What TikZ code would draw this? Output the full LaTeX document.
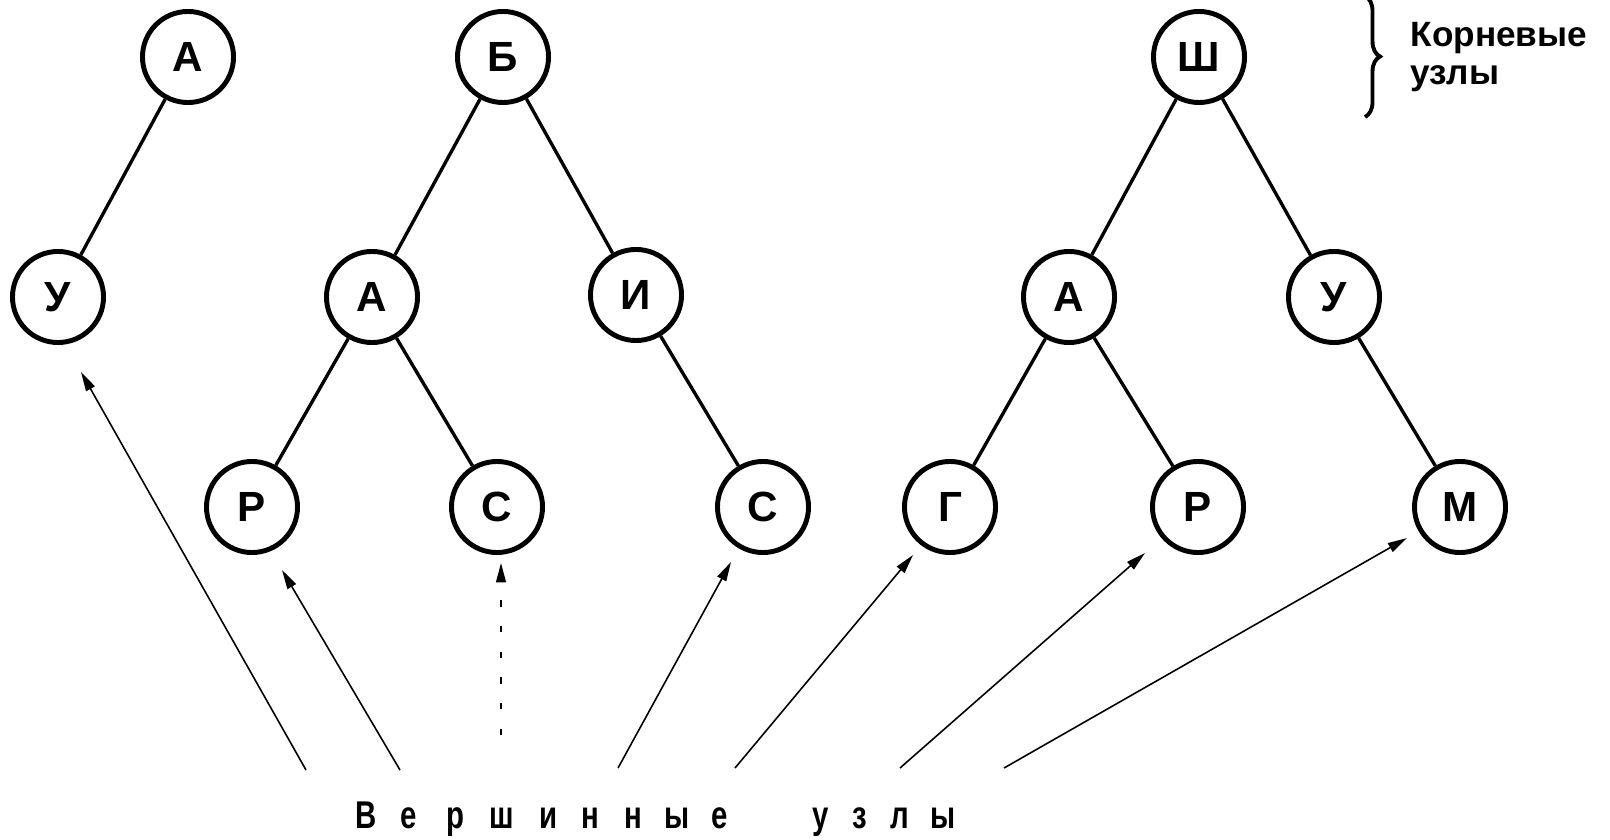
\documentclass[tikz,border=0pt]{standalone}
\usepackage{fontspec}
\setmainfont{Liberation Sans}
\newfontfamily\narrowsans[FakeStretch=0.76]{Liberation Sans}
\usepackage{tikz}
\usetikzlibrary{arrows.meta,calc,decorations.pathreplacing}
\tikzset{
  base/.style={font=\bfseries, inner sep=0pt, text=black},
  vert/.style={base, circle, draw=black, line width=1.4pt, minimum size=9.1mm, font=\bfseries\fontsize{12}{14}\selectfont},
  link/.style={line width=0.95pt, draw=black},
  ptr/.style={-{Triangle[length=5.5pt,width=2.8pt]}, line width=0.45pt, draw=black},
  ptrd/.style={ptr, dash pattern=on 1.8pt off 5.5pt},
  lbl/.style={base, font=\bfseries\fontsize{10}{11}\selectfont},
  spaced/.style={base, font=\narrowsans\bfseries\fontsize{11}{12}\selectfont, anchor=base},
}

\begin{document}
\begin{tikzpicture}[x=0.01cm,y=-0.01cm]
  \useasboundingbox (0,0) rectangle (1610,840);
  % first tree
  \node[vert] (a1) at (188,57) {А};
  \node[vert] (u1) at (58,297) {У};
  \draw[link] (a1) -- (u1);
  % second tree
  \node[vert] (b2) at (503,57) {Б};
  \node[vert] (a2) at (372,297) {А};
  \node[vert] (i2) at (636,295) {И};
  \node[vert] (r2) at (252,507) {Р};
  \node[vert] (s2) at (497,507) {С};
  \node[vert] (s3) at (763,507) {С};
  \draw[link] (b2) -- (a2) (b2) -- (i2) (a2) -- (r2) (a2) -- (s2) (i2) -- (s3);
  % third tree
  \node[vert] (sh3) at (1199,57) {Ш};
  \node[vert] (a3) at (1069,297) {А};
  \node[vert] (u3) at (1334,297) {У};
  \node[vert] (g3) at (950,507) {Г};
  \node[vert] (r3) at (1198,507) {Р};
  \node[vert] (m3) at (1460,507) {М};
  \draw[link] (sh3) -- (a3) (sh3) -- (u3) (a3) -- (g3) (a3) -- (r3) (u3) -- (m3);
  % roots
  \draw[line width=1.1pt, decorate, decoration={brace, amplitude=0.15cm}] (1365,-4) -- (1365,117);
  \node[lbl, anchor=base west] (rootA) at (1410,47) {Корневые};
  \node[lbl, anchor=base west] (rootB) at (1410,85) {узлы};
  % leaves caption
  \foreach \ch/\x [count=\k] in {В/366,е/409,р/455,ш/502,и/549,н/590,н/633,ы/677,е/720,у/821,з/860,л/900,ы/943}
    \node[spaced] (w\k) at (\x,828) {\ch};
  \coordinate (p1) at (306,770);
  \coordinate (p2) at (400,770);
  \coordinate (p3) at (501,735);
  \coordinate (p4) at (618,768);
  \coordinate (p5) at (735,768);
  \coordinate (p6) at (900,768);
  \coordinate (p7) at (1004,768);
  \draw[ptr] (p1) -- ($(u1)+(23,75)$);
  \draw[ptr] (p2) -- ($(r2)+(30,63)$);
  \draw[ptrd] (p3) -- ($(s2)+(4,56)$);
  \draw[ptr] (p4) -- ($(s3)+(-32,55)$);
  \draw[ptr] (p5) -- ($(g3)+(-37,48)$);
  \draw[ptr] (p6) -- ($(r3)+(-53,46)$);
  \draw[ptr] (p7) -- ($(m3)+(-53,31)$);
\end{tikzpicture}
\end{document}
